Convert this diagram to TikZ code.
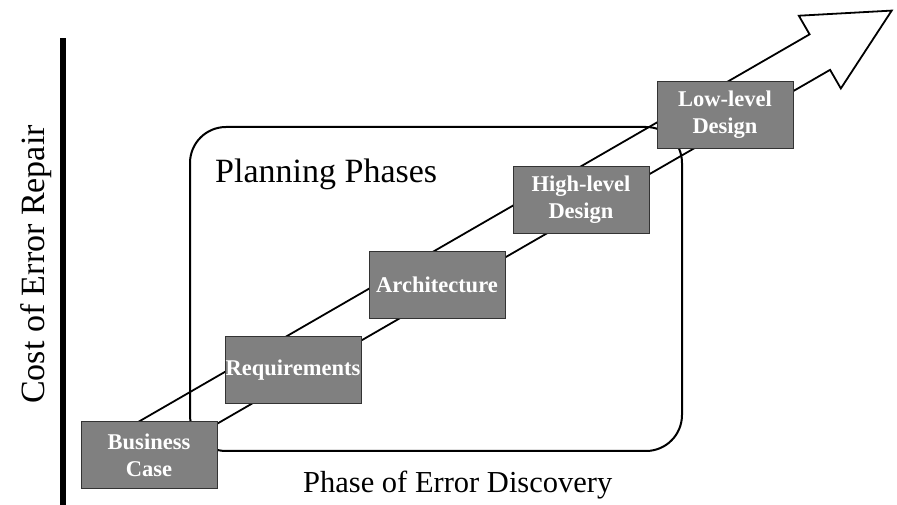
\documentclass[tikz,border=0pt]{standalone}
\usepackage{fontspec}
\setmainfont{Liberation Serif}
\usetikzlibrary{positioning}
\begin{document}
\begin{tikzpicture}[x=1pt, y=1pt]
			\tikzset{ph/.style={draw=black!80, fill=black!50, text=white, line width=1pt,
				minimum width=136pt, minimum height=67pt, inner sep=0pt, outer sep=0pt,
				align=center, font=\fontsize{22.5}{27}\selectfont\bfseries},
			lbl/.style={inner sep=0pt, font=\fontsize{34}{40}\selectfont}};

			\useasboundingbox (0,0) rectangle (897,505);

			% planning frame
			\draw[line width=2pt, rounded corners=36pt] (190,54) rectangle (682,378);

			% big arrow
			\begin{scope}[shift={(140,60.4)}, rotate=30, line width=1.8pt, line join=miter]
				\coordinate (tl) at (0,20.5);
				\coordinate (bl) at (0,-20.5);
				\coordinate (tip) at (868,0);
				\draw (bl) -- (785,-20.5) -- (785,-42) -- (tip) -- (785,42) -- (785,20.5) -- (tl);
			\end{scope}

			\node[ph] (bc) at (149,50) {Business\\Case};
			\node[ph, above right=18pt and 8pt of bc] (req) {Requirements};
			\node[ph, above right=18pt and 8pt of req] (arch) {Architecture};
			\node[ph, above right=18pt and 8pt of arch] (hld) {High-level\\Design};
			\node[ph, above right=18pt and 8pt of hld] (lld) {Low-level\\Design};

			% axis
			\coordinate (ybot) at (63,0);
			\coordinate (ytop) at (63,467);
			\draw[line width=6pt] (ybot) -- (ytop);

			\node[lbl, rotate=90] (cost) at (36,240.5) {Cost of Error Repair};
			\node[lbl, anchor=base west] (plan) at (215,322) {Planning Phases};
			\node[lbl, anchor=base west, font=\fontsize{30.5}{36}\selectfont] (disc) at (303,12) {Phase of Error Discovery};
		\end{tikzpicture}
\end{document}
